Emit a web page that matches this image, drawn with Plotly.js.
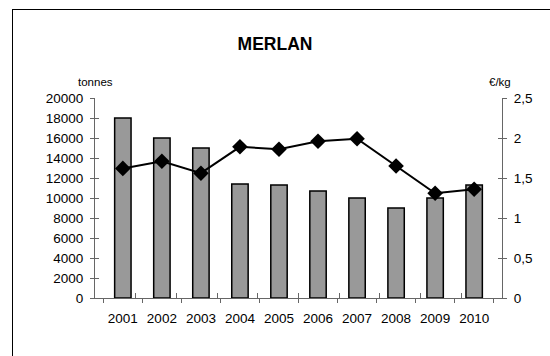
<!DOCTYPE html>
<html>
<head>
<meta charset="utf-8">
<script src="https://cdn.plot.ly/plotly-3.0.1.min.js"></script>
<style>
html,body{margin:0;padding:0;background:#fff;overflow:hidden;}
#wrap{position:relative;width:550px;height:356px;overflow:hidden;}
#chart{position:absolute;left:0;top:0;width:550px;height:356px;}
#frame{position:absolute;left:12px;top:9px;width:600px;height:400px;border:1px solid #000;pointer-events:none;}
</style>
</head>
<body>
<div id="wrap"><div id="chart"></div><div id="frame"></div></div>
<script>
const years = ['2001','2002','2003','2004','2005','2006','2007','2008','2009','2010'];
const tonnes = [18000, 16000, 15000, 11400, 11300, 10700, 10000, 9000, 10000, 11300];
const prixKg = [1.62, 1.71, 1.56, 1.89, 1.86, 1.96, 1.99, 1.65, 1.31, 1.36];
const leftTicks = [0,2000,4000,6000,8000,10000,12000,14000,16000,18000,20000];
const rightTicks = [0,0.5,1,1.5,2,2.5];
const rightTickText = ['0','0,5','1','1,5','2','2,5'];

const FAM = 'Liberation Sans, Arial, sans-serif';
const font = {family:FAM, size:13.5, color:'#000'};
const AX = '#666';
const boundaries = years.map((_, i) => i - 0.5).concat([years.length - 0.5]);

const traces = [
  {type:'bar', x:years, y:tonnes, name:'tonnes',
   marker:{color:'#999999', line:{color:'#000', width:1.5}}, yaxis:'y'},
  {type:'scatter', mode:'lines+markers', x:years, y:prixKg, name:'€/kg', yaxis:'y2',
   line:{color:'#000', width:2}, marker:{symbol:'diamond', size:12, color:'#000'}},
  // invisible helper traces so the inner-tick axes get drawn
  {type:'scatter', mode:'none', x:[], y:[], xaxis:'x2', yaxis:'y3', hoverinfo:'skip', showlegend:false},
  {type:'scatter', mode:'none', x:[], y:[], xaxis:'x2', yaxis:'y4', hoverinfo:'skip', showlegend:false}
];

const layout = {
  width:550, height:356,
  margin:{l:95, r:48, t:98, b:58},
  paper_bgcolor:'#fff', plot_bgcolor:'rgba(0,0,0,0)',
  font:font, showlegend:false, bargap:0.58,
  title:{text:'<b>MERLAN</b>', font:{family:FAM, size:17.5, color:'#000'}, x:0.5, xanchor:'center', y:0.878, yanchor:'middle'},
  xaxis:{type:'category', showline:true, linecolor:AX, linewidth:1, ticks:'outside', ticklen:4, tickcolor:AX,
         tickson:'boundaries', showgrid:false, zeroline:false, tickfont:font, ticklabelstandoff:8, tickangle:0},
  xaxis2:{type:'linear', range:[-0.5, years.length - 0.5], overlaying:'x', tickvals:boundaries, ticks:'inside', ticklen:5, tickcolor:AX,
          showticklabels:false, showline:false, showgrid:false, zeroline:false, side:'bottom', anchor:'y'},
  yaxis:{range:[0,20000], tickvals:leftTicks, ticktext:leftTicks.map(String), showline:true, linecolor:AX,
         ticks:'outside', ticklen:4, tickcolor:AX, showgrid:false, zeroline:false, tickfont:font, ticklabelstandoff:4},
  yaxis2:{range:[0,2.5], tickvals:rightTicks, ticktext:rightTickText, overlaying:'y', side:'right', showline:true,
          linecolor:AX, ticks:'outside', ticklen:4, tickcolor:AX, showgrid:false, zeroline:false, tickfont:font, ticklabelstandoff:4},
  yaxis3:{range:[0,20000], tickvals:leftTicks, overlaying:'y', side:'left', ticks:'inside', ticklen:4, tickcolor:AX,
          showticklabels:false, showline:false, showgrid:false, zeroline:false, anchor:'x2'},
  yaxis4:{range:[0,2.5], tickvals:rightTicks, overlaying:'y', side:'right', ticks:'inside', ticklen:4, tickcolor:AX,
          showticklabels:false, showline:false, showgrid:false, zeroline:false, anchor:'x2'},
  annotations:[
    {text:'tonnes', xref:'paper', yref:'paper', x:0.0, y:1.08, xanchor:'center', yanchor:'middle', showarrow:false, font:{family:FAM, size:11.5, color:'#000'}},
    {text:'€/kg', xref:'paper', yref:'paper', x:0.995, y:1.08, xanchor:'center', yanchor:'middle', showarrow:false, font:{family:FAM, size:11.5, color:'#000'}}
  ]
};
Plotly.newPlot('chart', traces, layout, {displayModeBar:false, staticPlot:true});
</script>
</body>
</html>
